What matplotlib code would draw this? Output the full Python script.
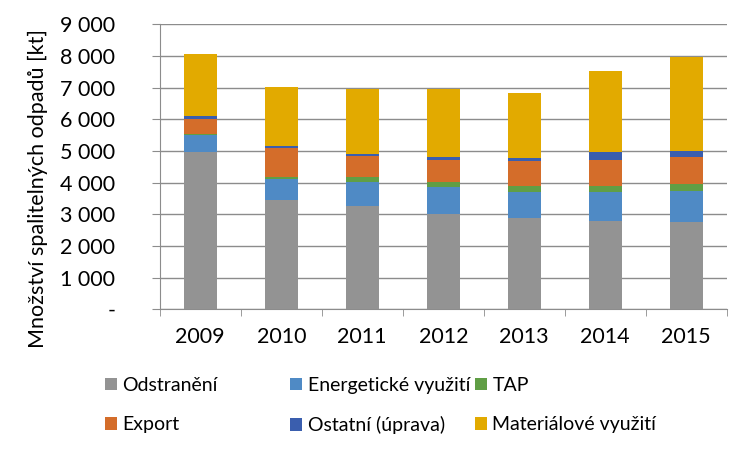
import matplotlib.pyplot as plt
import numpy as np
from matplotlib.ticker import FuncFormatter, FixedLocator

years = ["2009", "2010", "2011", "2012", "2013", "2014", "2015"]

# kt
odstraneni = [4970, 3450, 3260, 3000, 2870, 2780, 2755]
energeticke = [520, 655, 770, 850, 840, 925, 990]
tap = [40, 80, 155, 170, 180, 200, 220]
export = [480, 915, 655, 695, 780, 810, 845]
ostatni = [100, 65, 65, 105, 105, 255, 190]
materialove = [1960, 1845, 2050, 2140, 2045, 2560, 2980]

series = [
    ("Odstranění", odstraneni, "#939393"),
    ("Energetické využití", energeticke, "#4f8ac5"),
    ("TAP", tap, "#609e45"),
    ("Export", export, "#d46d2a"),
    ("Ostatní (úprava)", ostatni, "#3a5eae"),
    ("Materiálové využití", materialove, "#e2aa00"),
]


def thousands(y, _):
    if y == 0:
        return "-"
    return f"{y:,.0f}".replace(",", " ")


plt.rcParams['font.family'] = ['Lato', 'DejaVu Sans']
fs = 15.5
fig = plt.figure(figsize=(7.5, 4.5), dpi=100)
ax = fig.add_axes([0.213, 0.313, 0.756, 0.633])

x = np.arange(len(years))
bottom = np.zeros(len(years))
handles = []
for name, vals, color in series:
    b = ax.bar(x, vals, width=0.41, bottom=bottom, color=color, label=name, zorder=3)
    handles.append(b)
    bottom += np.array(vals)

grid_c = "#8c8c8c"
ax.set_ylim(0, 9000)
ax.set_xlim(-0.5, len(years) - 0.5)
ax.set_yticks(np.arange(0, 9001, 1000))
ax.yaxis.set_major_formatter(FuncFormatter(thousands))
ax.grid(axis='y', color=grid_c, linewidth=1, zorder=0)
ax.set_xticks(x)
ax.set_xticklabels(years)
ax.xaxis.set_minor_locator(FixedLocator(np.arange(-0.5, len(years), 1)))
ax.tick_params(axis='x', which='major', length=0, pad=13, labelsize=fs)
ax.tick_params(axis='x', which='minor', length=5, color=grid_c, direction='out')
ax.tick_params(axis='y', length=6, color=grid_c, direction='out', labelsize=fs, pad=26)
for s in ['top', 'right']:
    ax.spines[s].set_visible(False)
for s in ['left', 'bottom']:
    ax.spines[s].set_color(grid_c)
ax.set_ylabel("Množství spalitelných odpadů [kt]", fontsize=fs)
ax.yaxis.set_label_coords(-0.1975, 0.424)

# legend laid out row by row in three evenly spaced columns
col_x = [0.14, 0.3867, 0.6333]
for c in range(3):
    hs = [handles[c], handles[c + 3]]
    labels = [series[c][0], series[c + 3][0]]
    fig.legend(hs, labels, loc='upper left', bbox_to_anchor=(col_x[c], 0.163),
               frameon=False, fontsize=14, handlelength=0.6, handleheight=0.6,
               handletextpad=0.3, labelspacing=1.16, borderaxespad=0, borderpad=0)

fig.savefig("out.png", dpi=100)
